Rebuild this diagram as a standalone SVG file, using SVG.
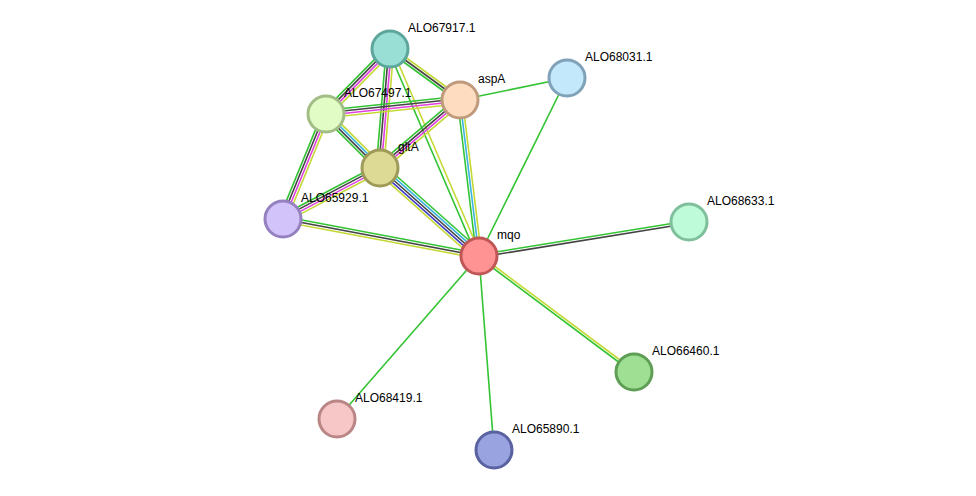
<svg xmlns="http://www.w3.org/2000/svg" width="976" height="496" viewBox="0 0 976 496">
<style>
.e line{stroke-width:1.6;fill:none}
.g{stroke:#33c433}
.y{stroke:#c5d936}
.k{stroke:#444444}
.m{stroke:#e040e0}
.c{stroke:#3ab4de}
.b{stroke:#3e3ec4}
.n circle{stroke-width:3}
text{font-family:"Liberation Sans",Arial,sans-serif;font-size:12px;fill:#000}
</style>
<rect width="976" height="496" fill="#ffffff"/>
<g id="connectors" class="e">
  <!-- single green edges -->
  <line class="g" x1="479" y1="256" x2="337" y2="419"/>
  <line class="g" x1="479" y1="256" x2="494" y2="450"/>
  <line class="g" x1="479" y1="256" x2="567" y2="78"/>
  <line class="g" x1="460" y1="100" x2="567" y2="78"/>
  <!-- mqo - ALO68633.1 -->
  <g transform="translate(479,256) rotate(-9.20)">
    <line class="g" x1="0" y1="-1.25" x2="212.7" y2="-1.25"/>
    <line class="k" x1="0" y1="1.25" x2="212.7" y2="1.25"/>
  </g>
  <!-- mqo - ALO66460.1 -->
  <g transform="translate(479,256) rotate(36.81)">
    <line class="y" x1="0" y1="-1.25" x2="193.6" y2="-1.25"/>
    <line class="g" x1="0" y1="1.25" x2="193.6" y2="1.25"/>
  </g>
  <!-- mqo - ALO65929.1 -->
  <g transform="translate(479,256) rotate(190.69)">
    <line class="g" x1="0" y1="2.5" x2="199.5" y2="2.5"/>
    <line class="k" x1="0" y1="0" x2="199.5" y2="0"/>
    <line class="y" x1="0" y1="-2.5" x2="199.5" y2="-2.5"/>
  </g>
  <!-- mqo - gltA -->
  <g transform="translate(479,256) rotate(221.63)">
    <line class="g" x1="0" y1="5" x2="132.5" y2="5"/>
    <line class="c" x1="0" y1="2.5" x2="132.5" y2="2.5"/>
    <line class="k" x1="0" y1="0" x2="132.5" y2="0"/>
    <line class="b" x1="0" y1="-2.5" x2="132.5" y2="-2.5"/>
    <line class="y" x1="0" y1="-5" x2="132.5" y2="-5"/>
  </g>
  <!-- mqo - aspA -->
  <g transform="translate(479,256) rotate(-96.94)">
    <line class="g" x1="0" y1="-2.5" x2="157.2" y2="-2.5"/>
    <line class="c" x1="0" y1="0" x2="157.2" y2="0"/>
    <line class="y" x1="0" y1="2.5" x2="157.2" y2="2.5"/>
  </g>
  <!-- mqo - ALO67917.1 -->
  <g transform="translate(479,256) rotate(-113.26)">
    <line class="g" x1="0" y1="-2" x2="225.3" y2="-2"/>
    <line class="y" x1="0" y1="2" x2="225.3" y2="2"/>
  </g>
  <!-- ALO67917.1 - aspA -->
  <g transform="translate(390,49) rotate(36.08)">
    <line class="g" x1="0" y1="2.5" x2="86.6" y2="2.5"/>
    <line class="k" x1="0" y1="0" x2="86.6" y2="0"/>
    <line class="y" x1="0" y1="-2.5" x2="86.6" y2="-2.5"/>
  </g>
  <!-- ALO67917.1 - ALO67497.1 -->
  <g transform="translate(390,49) rotate(134.56)">
    <line class="g" x1="0" y1="3.75" x2="91.2" y2="3.75"/>
    <line class="k" x1="0" y1="1.25" x2="91.2" y2="1.25"/>
    <line class="m" x1="0" y1="-1.25" x2="91.2" y2="-1.25"/>
    <line class="y" x1="0" y1="-3.75" x2="91.2" y2="-3.75"/>
  </g>
  <!-- ALO67917.1 - gltA -->
  <g transform="translate(390,49) rotate(94.80)">
    <line class="g" x1="0" y1="3.75" x2="119.4" y2="3.75"/>
    <line class="k" x1="0" y1="1.25" x2="119.4" y2="1.25"/>
    <line class="m" x1="0" y1="-1.25" x2="119.4" y2="-1.25"/>
    <line class="y" x1="0" y1="-3.75" x2="119.4" y2="-3.75"/>
  </g>
  <!-- ALO67497.1 - aspA -->
  <g transform="translate(326,114) rotate(-5.96)">
    <line class="g" x1="0" y1="-3.75" x2="134.7" y2="-3.75"/>
    <line class="k" x1="0" y1="-1.25" x2="134.7" y2="-1.25"/>
    <line class="m" x1="0" y1="1.25" x2="134.7" y2="1.25"/>
    <line class="y" x1="0" y1="3.75" x2="134.7" y2="3.75"/>
  </g>
  <!-- ALO67497.1 - gltA -->
  <g transform="translate(326,114) rotate(45)">
    <line class="g" x1="0" y1="3.75" x2="76.4" y2="3.75"/>
    <line class="k" x1="0" y1="1.25" x2="76.4" y2="1.25"/>
    <line class="c" x1="0" y1="-1.25" x2="76.4" y2="-1.25"/>
    <line class="y" x1="0" y1="-3.75" x2="76.4" y2="-3.75"/>
  </g>
  <!-- ALO67497.1 - ALO65929.1 -->
  <g transform="translate(326,114) rotate(112.27)">
    <line class="g" x1="0" y1="3.75" x2="113.5" y2="3.75"/>
    <line class="k" x1="0" y1="1.25" x2="113.5" y2="1.25"/>
    <line class="m" x1="0" y1="-1.25" x2="113.5" y2="-1.25"/>
    <line class="y" x1="0" y1="-3.75" x2="113.5" y2="-3.75"/>
  </g>
  <!-- gltA - aspA -->
  <g transform="translate(380,168) rotate(-40.36)">
    <line class="g" x1="0" y1="-3.75" x2="105" y2="-3.75"/>
    <line class="k" x1="0" y1="-1.25" x2="105" y2="-1.25"/>
    <line class="m" x1="0" y1="1.25" x2="105" y2="1.25"/>
    <line class="y" x1="0" y1="3.75" x2="105" y2="3.75"/>
  </g>
  <!-- gltA - ALO65929.1 -->
  <g transform="translate(380,168) rotate(152.26)">
    <line class="g" x1="0" y1="3.75" x2="109.6" y2="3.75"/>
    <line class="k" x1="0" y1="1.25" x2="109.6" y2="1.25"/>
    <line class="m" x1="0" y1="-1.25" x2="109.6" y2="-1.25"/>
    <line class="y" x1="0" y1="-3.75" x2="109.6" y2="-3.75"/>
  </g>
</g>
<g id="ALO67917.1" class="n"><circle cx="390" cy="49" r="18" fill="#99dfd5" stroke="#5da69c"/><text x="408" y="32">ALO67917.1</text></g>
<g id="aspA" class="n"><circle cx="460" cy="100" r="18" fill="#fddcbf" stroke="#bf9b7d"/><text x="478" y="83">aspA</text></g>
<g id="ALO68031.1" class="n"><circle cx="567" cy="78" r="18" fill="#c3e7fb" stroke="#80a2b8"/><text x="585" y="61">ALO68031.1</text></g>
<g id="ALO67497.1" class="n"><circle cx="326" cy="114" r="18" fill="#e1fdc5" stroke="#a2be86"/><text x="344" y="97">ALO67497.1</text></g>
<g id="gltA" class="n"><circle cx="380" cy="168" r="18" fill="#ddda95" stroke="#9e9a57"/><text x="398" y="151">gltA</text></g>
<g id="ALO65929.1" class="n"><circle cx="283" cy="219" r="18" fill="#d3c3fb" stroke="#9580c0"/><text x="301" y="202">ALO65929.1</text></g>
<g id="mqo" class="n"><circle cx="479" cy="256" r="18" fill="#ff9393" stroke="#c05757"/><text x="497" y="239">mqo</text></g>
<g id="ALO68633.1" class="n"><circle cx="689" cy="222" r="18" fill="#befbd8" stroke="#7fbf9b"/><text x="707" y="205">ALO68633.1</text></g>
<g id="ALO66460.1" class="n"><circle cx="634" cy="372" r="18" fill="#9fdf94" stroke="#5e9e55"/><text x="652" y="355">ALO66460.1</text></g>
<g id="ALO68419.1" class="n"><circle cx="337" cy="419" r="18" fill="#f7c7c7" stroke="#b98585"/><text x="355" y="402">ALO68419.1</text></g>
<g id="ALO65890.1" class="n"><circle cx="494" cy="450" r="18" fill="#99a3df" stroke="#5a62a2"/><text x="512" y="433">ALO65890.1</text></g>
</svg>
